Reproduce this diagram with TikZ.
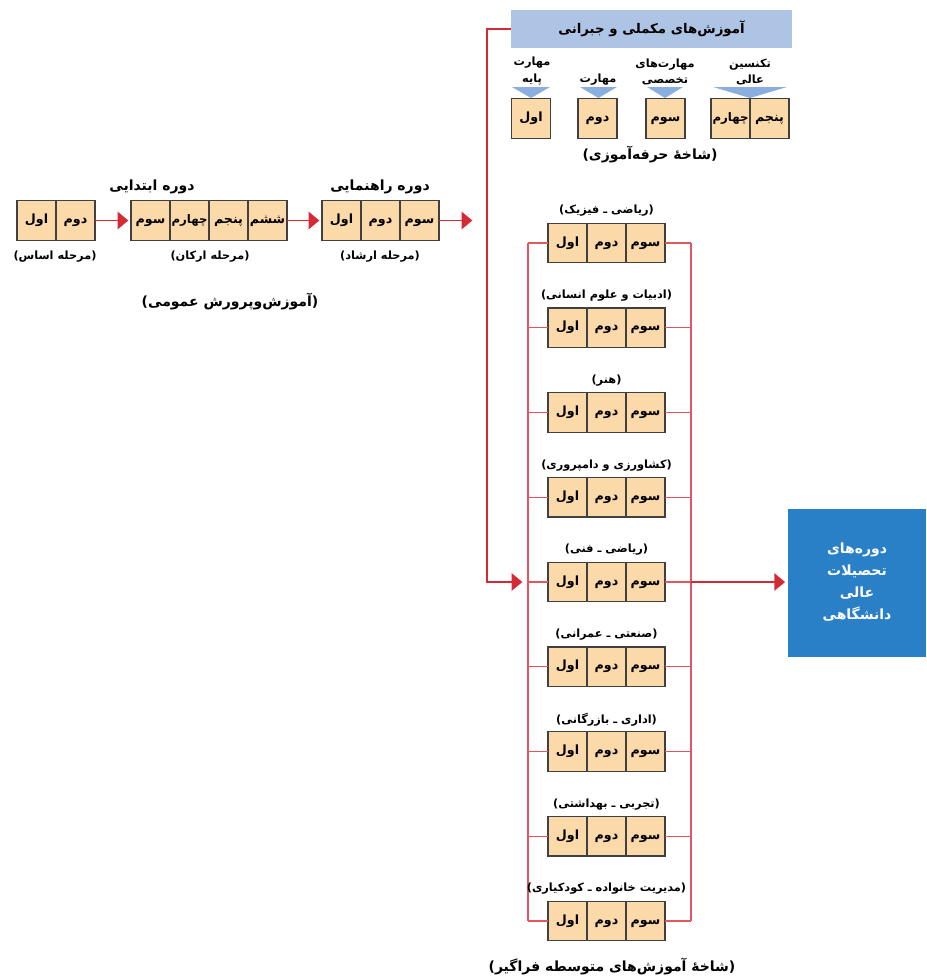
\documentclass[tikz,border=0pt]{standalone}
\usepackage{fontspec}
\newfontfamily\farsi[Script=Arabic]{DejaVu Sans}
\TeXXeTstate=1
\newcommand{\ftxt}[1]{\beginR #1\endR}
\usetikzlibrary{positioning,arrows.meta}
\definecolor{cellfill}{HTML}{FBD9A9}
\definecolor{railred}{HTML}{E2565F}
\definecolor{arrowred}{HTML}{D42A35}
\definecolor{barblue}{HTML}{AEC4E4}
\definecolor{tipblue}{HTML}{8AAEDD}
\definecolor{unibox}{HTML}{2A80C6}
\begin{document}
\begin{tikzpicture}[x=0.75pt, y=-0.75pt,
    cell/.style={draw=black!75, fill=cellfill, line width=0.9pt, minimum width=29.25pt, minimum height=29.5pt,
        text height=7pt, text depth=2.5pt, inner sep=0pt, outer sep=0pt, font=\farsi\bfseries\fontsize{9.5}{11}\selectfont,
        execute at begin node=\beginR, execute at end node=\endR},
    widecell/.style={cell, font=\farsi\bfseries\fontsize{8.8}{11}\selectfont},
    lbl/.style={font=\farsi\bfseries\fontsize{8.5}{10}\selectfont, inner sep=1pt, execute at begin node=\beginR, execute at end node=\endR},
    head/.style={font=\farsi\bfseries\fontsize{10.5}{12}\selectfont, inner sep=1pt, execute at begin node=\beginR, execute at end node=\endR},
    twoline/.style={font=\farsi\bfseries\fontsize{8.5}{12.5}\selectfont, align=center, inner sep=1pt, anchor=south},
    rail/.style={railred, line width=1pt},
    redarrow/.style={arrowred, line width=1.1pt, shorten >=2pt, -{Triangle[length=8pt, width=13pt]}},
]
    \useasboundingbox (0,0) rectangle (926,979);

    % general education
    \node[cell] (asas1) at (36.5,220.5) {اول};
    \node[cell, right=0pt of asas1] (asas2) {دوم};
    \node[cell] (arkan1) at (150.5,220.5) {سوم};
    \node[widecell, right=0pt of arkan1] (arkan2) {چهارم};
    \node[cell, right=0pt of arkan2] (arkan3) {پنجم};
    \node[cell, right=0pt of arkan3] (arkan4) {ششم};
    \node[cell] (ershad1) at (341.5,220.5) {اول};
    \node[cell, right=0pt of ershad1] (ershad2) {دوم};
    \node[cell, right=0pt of ershad2] (ershad3) {سوم};
    \coordinate (fwd) at (475,220.5);

    \draw[redarrow] (asas2) -- (arkan1);
    \draw[redarrow] (arkan4) -- (ershad1);
    \draw[redarrow] (ershad3) -- (fwd);

    \node[head] (ebtedai) at (152,187) {دوره ابتدایی};
    \node[head] (rahnamai) at (380,187) {دوره راهنمایی};
    \node[lbl] (asas) at (55,257) {(مرحله اساس)};
    \node[lbl] (arkan) at (210,257) {(مرحله ارکان)};
    \node[lbl] (ershad) at (380,257) {(مرحله ارشاد)};
    \node[head] (omumi) at (230,302) {(آموزش‌وپرورش عمومی)};

    % vocational branch
    \node[head, font=\farsi\bfseries\fontsize{10}{12}\selectfont, fill=barblue, minimum width=210.75pt, minimum height=28.5pt]
        (mokamel) at (651.5,29) {آموزش‌های مکملی و جبرانی};
    \foreach \l/\r in {512/550, 580/617, 647/683, 713/787}
        \fill[tipblue] (\l,87) -- (\r,87) -- ({(\l+\r)/2},98) -- cycle;
    \node[twoline] (paye) at (532,87) {\ftxt{مهارت}\\\ftxt{پایه}};
    \node[twoline] (maharat) at (598,87) {\ftxt{مهارت}};
    \node[twoline] (takhasosi) at (665,87) {\ftxt{مهارت‌های}\\\ftxt{تخصصی}};
    \node[twoline] (technician) at (750,87) {\ftxt{تکنسین}\\\ftxt{عالی}};
    \node[cell] (kar1) at (531,118.5) {اول};
    \node[cell] (kar2) at (597.5,118.5) {دوم};
    \node[cell] (kar3) at (665.5,118.5) {سوم};
    \node[widecell] (kar4) at (730.5,118.5) {چهارم};
    \node[cell, right=0pt of kar4] (kar5) {پنجم};
    \node[head] (herfe) at (650,155) {(شاخهٔ حرفه‌آموزی)};

    % secondary branch
    \coordinate (ltop) at (528,243);
    \coordinate (lbot) at (528,921);
    \coordinate (rtop) at (691,243);
    \coordinate (rbot) at (691,921);
    \draw[rail] (ltop) -- (lbot);
    \draw[rail] (rtop) -- (rbot);
    \foreach \name [count=\i] in {ریاضی ـ فیزیک, ادبیات و علوم انسانی, هنر, کشاورزی و دامپروری, ریاضی ـ فنی,
        صنعتی ـ عمرانی, اداری ـ بازرگانی, تجربی ـ بهداشتی, مدیریت خانواده ـ کودکیاری} {
        \pgfmathsetmacro\y{243+(\i-1)*84.75}
        \node[cell] (r\i-a) at (567.5,\y) {اول};
        \node[cell, right=0pt of r\i-a] (r\i-b) {دوم};
        \node[cell, right=0pt of r\i-b] (r\i-c) {سوم};
        \node[lbl] (r\i-t) at (606.5,\y-32) {(\name)};
        \draw[rail] (r\i-a.west) -- (r\i-a.west -| ltop);
        \draw[rail] (r\i-c.east) -- (r\i-c.east -| rtop);
    }
    \node[head] (faragir) at (612,967) {(شاخهٔ آموزش‌های متوسطه فراگیر)};

    % university
    \node[fill=unibox, text=white, minimum width=103.5pt, minimum height=111pt, align=center,
        font=\farsi\bfseries\fontsize{10.5}{16.5}\selectfont] (uni) at (857,582.5)
        {\ftxt{دوره‌های}\\\ftxt{تحصیلات}\\\ftxt{عالی}\\\ftxt{دانشگاهی}};
    \coordinate (feed) at (487,29);
    \coordinate (feedin) at (525,582);
    \draw[redarrow] (mokamel.west) -- (feed) |- (feedin);
    \draw[redarrow] (r5-c.east -| rtop) -- (r5-c.east -| uni.west);
\end{tikzpicture}
\end{document}
